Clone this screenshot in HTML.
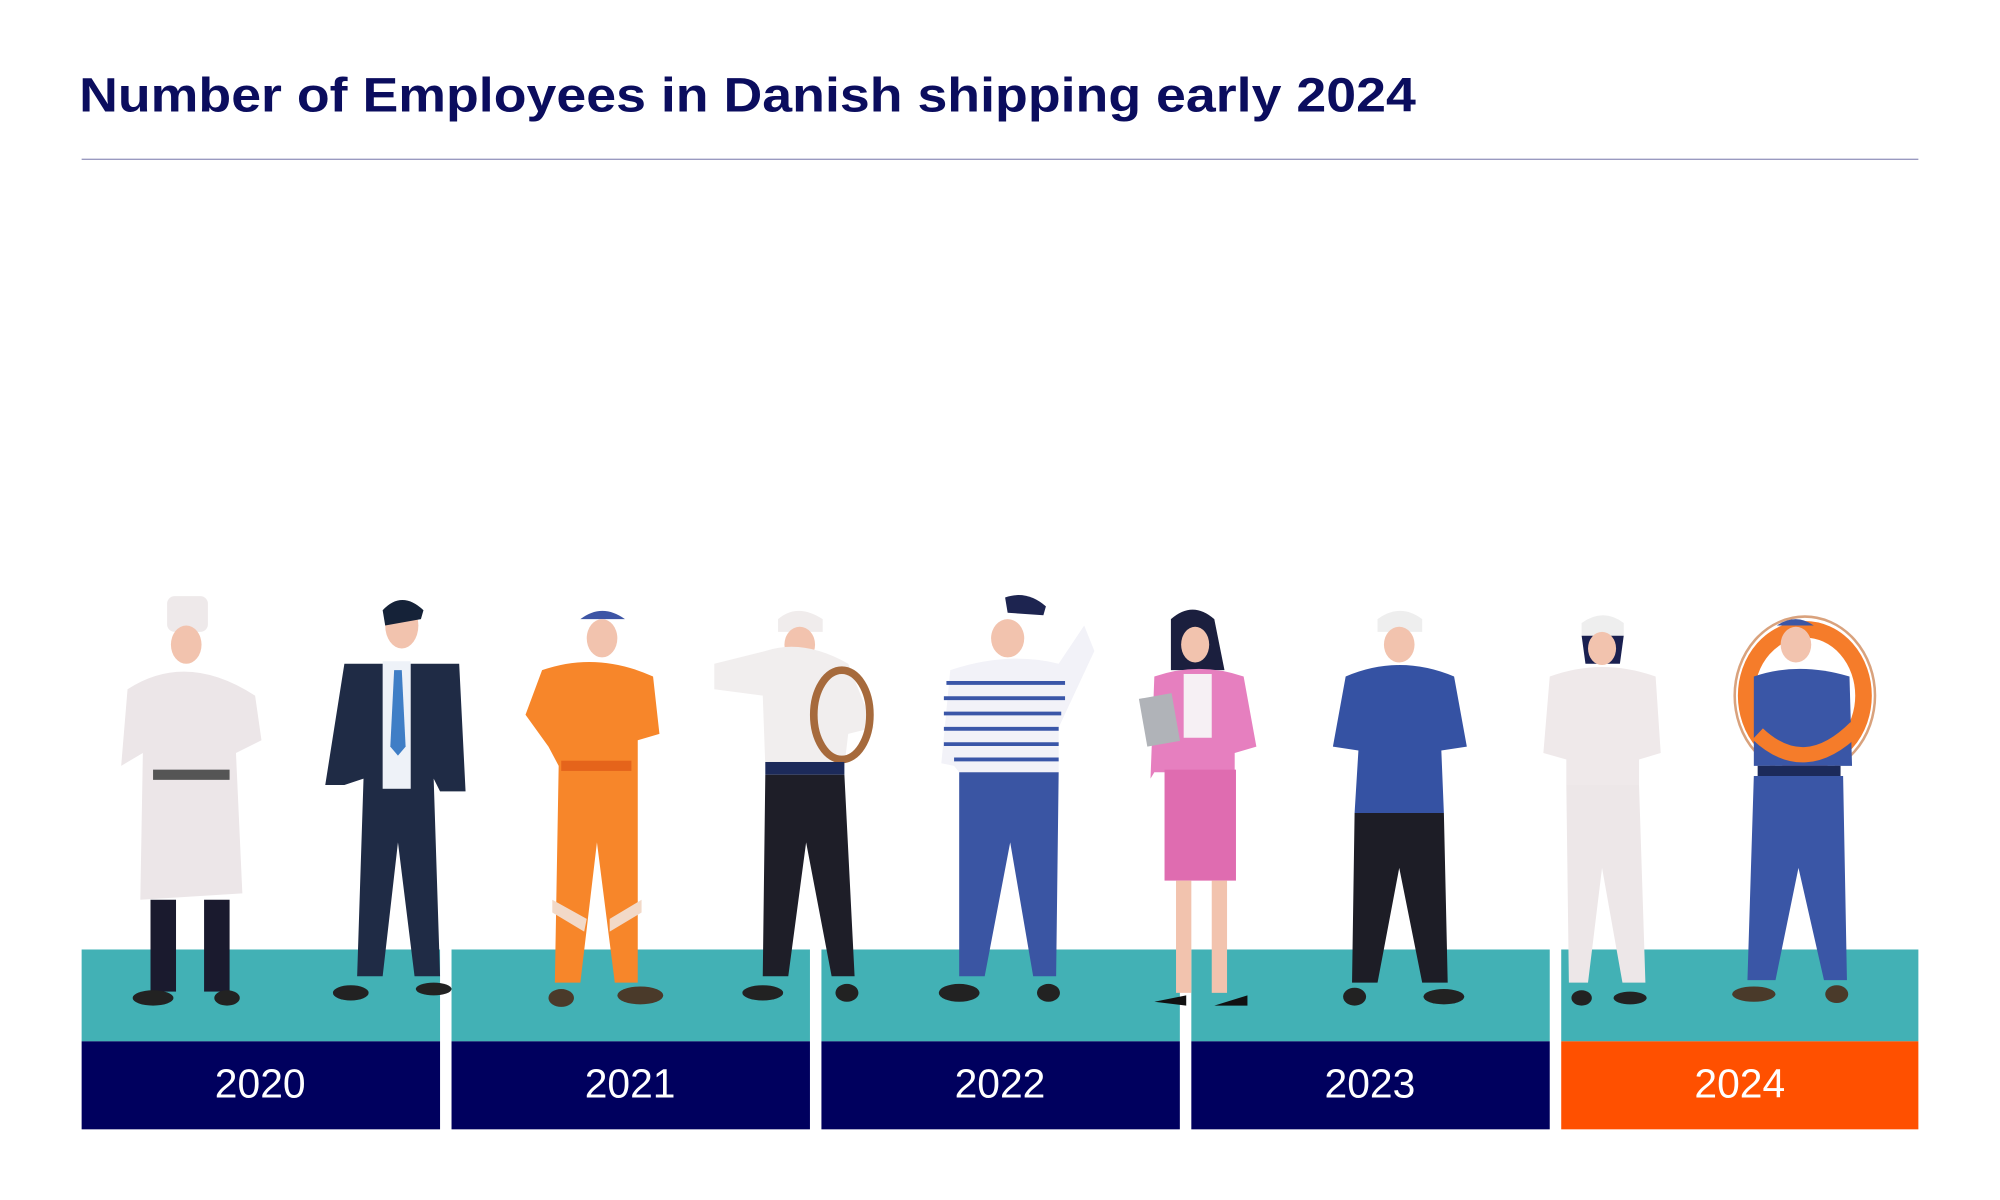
<!DOCTYPE html>
<html><head><meta charset="utf-8"><style>
html,body{margin:0;padding:0;background:#fff;width:2000px;height:1200px;overflow:hidden}
svg{display:block}
</style></head><body>
<svg width="2000" height="1200" viewBox="0 0 1568 940" xmlns="http://www.w3.org/2000/svg" font-family="Liberation Sans, sans-serif">
<rect width="1568" height="940" fill="#fff"/>
<text x="62" y="87" font-size="38" font-weight="bold" fill="#0b0d5e" textLength="1048" lengthAdjust="spacingAndGlyphs">Number of Employees in Danish shipping early 2024</text>
<line x1="64" y1="124.5" x2="1504" y2="124.5" stroke="#9a9ac0" stroke-width="1"/>
<g fill="#42b1b5">
<rect x="64" y="744" width="281" height="72"/><rect x="354" y="744" width="281" height="72"/><rect x="644" y="744" width="281" height="72"/><rect x="934" y="744" width="281" height="72"/><rect x="1224" y="744" width="280" height="72"/>
</g>
<g fill="#00005e">
<rect x="64" y="816" width="281" height="69"/><rect x="354" y="816" width="281" height="69"/><rect x="644" y="816" width="281" height="69"/><rect x="934" y="816" width="281" height="69"/>
</g>
<rect x="1224" y="816" width="280" height="69" fill="#ff5000"/>
<g fill="#fff" font-size="32" text-anchor="middle">
<text x="204" y="860">2020</text><text x="494" y="860">2021</text><text x="784" y="860">2022</text><text x="1074" y="860">2023</text><text x="1364" y="860">2024</text>
</g>
<g>
<!-- chef -->
<rect x="131" y="467" width="32" height="28" rx="6" fill="#eee9ea"/>
<ellipse cx="146" cy="505" rx="12" ry="15" fill="#f2c3ae"/>
<path d="M100 540 Q146 510 200 545 L205 580 L185 590 L190 700 L110 705 L112 590 L95 600 Z" fill="#ece6e8"/>
<rect x="120" y="603" width="60" height="8" fill="#555"/>
<rect x="118" y="705" width="20" height="72" fill="#1a1a2e"/><rect x="160" y="705" width="20" height="72" fill="#1a1a2e"/>
<ellipse cx="120" cy="782" rx="16" ry="6" fill="#222"/><ellipse cx="178" cy="782" rx="10" ry="6" fill="#222"/>
<!-- suit -->
<ellipse cx="315" cy="490" rx="13" ry="18" fill="#f2c3ae"/><path d="M300 478 Q315 462 332 478 L330 485 L302 490Z" fill="#152238"/>
<path d="M270 520 L360 520 L365 620 L345 620 L340 610 L345 765 L325 765 L312 660 L300 765 L280 765 L285 610 L270 615 L255 615 Z" fill="#1f2b45"/>
<rect x="300" y="518" width="22" height="100" fill="#eef2f8"/><path d="M309 525 L315 525 L318 585 L312 592 L306 585Z" fill="#3f7ec6"/>
<ellipse cx="275" cy="778" rx="14" ry="6" fill="#222"/><ellipse cx="340" cy="775" rx="14" ry="5" fill="#222"/>
<!-- orange -->
<path d="M455 485 Q472 472 490 485 Z" fill="#3d55a5"/><ellipse cx="472" cy="500" rx="12" ry="15" fill="#f2c3ae"/>
<path d="M425 525 Q468 510 512 530 L517 575 L500 580 L500 600 L500 770 L482 770 L468 660 L455 770 L435 770 L438 600 L430 585 L412 560 Z" fill="#f7862a"/>
<rect x="440" y="596" width="55" height="8" fill="#e5641b"/>
<path d="M433 705 L460 720 L458 730 L433 715Z M478 720 L503 705 L503 715 L478 730Z" fill="#f2d9c8"/>
<ellipse cx="440" cy="782" rx="10" ry="7" fill="#4a3a2a"/><ellipse cx="502" cy="780" rx="18" ry="7" fill="#4a3a2a"/>
<!-- sailor -->
<path d="M610 485 Q625 472 645 485 L645 495 L610 495Z" fill="#f0ecec"/><ellipse cx="627" cy="505" rx="12" ry="14" fill="#f2c3ae"/>
<path d="M560 520 L600 510 Q630 500 665 520 L685 570 L665 575 L662 600 L600 600 L598 545 L560 540 Z" fill="#f1eeee"/>
<ellipse cx="660" cy="560" rx="22" ry="35" fill="none" stroke="#a66a3c" stroke-width="6"/>
<rect x="600" y="597" width="62" height="10" fill="#1c2a5a"/>
<path d="M600 607 L662 607 L670 765 L652 765 L632 660 L618 765 L598 765 Z" fill="#1e1e28"/>
<ellipse cx="598" cy="778" rx="16" ry="6" fill="#222"/><ellipse cx="664" cy="778" rx="9" ry="7" fill="#222"/>
<!-- striped -->
<path d="M788 468 Q805 462 820 475 L818 482 L790 480Z" fill="#1d2450"/><ellipse cx="790" cy="500" rx="13" ry="15" fill="#f2c3ae"/>
<path d="M745 525 Q790 510 830 520 L850 490 L858 510 L830 570 L830 605 L752 605 L748 600 L738 598 Z" fill="#f2f2f8"/>
<g stroke="#3a56a8" stroke-width="3"><line x1="742" y1="535" x2="835" y2="535"/><line x1="740" y1="547" x2="835" y2="547"/><line x1="740" y1="559" x2="832" y2="559"/><line x1="740" y1="571" x2="830" y2="571"/><line x1="740" y1="583" x2="830" y2="583"/><line x1="748" y1="595" x2="830" y2="595"/></g>
<path d="M752 605 L830 605 L828 765 L810 765 L792 660 L772 765 L752 765 Z" fill="#3a55a3"/>
<ellipse cx="752" cy="778" rx="16" ry="7" fill="#222"/><ellipse cx="822" cy="778" rx="9" ry="7" fill="#222"/>
<!-- woman -->
<path d="M918 485 Q935 470 952 485 L960 525 L918 525Z" fill="#1b1f3e"/><ellipse cx="937" cy="505" rx="11" ry="14" fill="#f2c3ae"/>
<path d="M905 530 Q940 518 975 530 L985 585 L968 590 L968 605 L910 605 L905 605 L902 610 Z" fill="#e67fbf"/>
<rect x="928" y="528" width="22" height="50" fill="#f6f0f4"/>
<rect x="896" y="545" width="26" height="38" fill="#b0b3b8" transform="rotate(-10 909 564)"/>
<rect x="913" y="603" width="56" height="87" fill="#df6cb0"/>
<rect x="922" y="690" width="12" height="88" fill="#f2c3ae"/><rect x="950" y="690" width="12" height="88" fill="#f2c3ae"/>
<path d="M905 785 L930 780 L930 788Z M952 788 L978 780 L978 788Z" fill="#111"/>
<!-- blue coat -->
<path d="M1080 485 Q1098 472 1115 485 L1115 495 L1080 495Z" fill="#eee"/><ellipse cx="1097" cy="505" rx="12" ry="14" fill="#f2c3ae"/>
<path d="M1055 530 Q1097 512 1140 530 L1150 585 L1130 588 L1132 637 L1062 637 L1065 588 L1045 585 Z" fill="#3552a3"/>
<path d="M1062 637 L1132 637 L1135 770 L1115 770 L1097 680 L1080 770 L1060 770 Z" fill="#1d1d26"/>
<ellipse cx="1062" cy="781" rx="9" ry="7" fill="#222"/><ellipse cx="1132" cy="781" rx="16" ry="6" fill="#222"/>
<!-- white captain -->
<path d="M1240 488 Q1257 476 1273 488 L1273 498 L1240 498Z" fill="#eee"/><path d="M1240 498 L1273 498 L1270 520 L1243 520Z" fill="#1a2050"/><ellipse cx="1256" cy="508" rx="11" ry="13" fill="#f2c3ae"/>
<path d="M1215 530 Q1256 515 1298 530 L1302 590 L1285 595 L1285 615 L1228 615 L1228 595 L1210 590 Z" fill="#efe9ea"/>
<path d="M1228 615 L1285 615 L1290 770 L1272 770 L1256 680 L1245 770 L1230 770 Z" fill="#ede7e8"/>
<ellipse cx="1240" cy="782" rx="8" ry="6" fill="#222"/><ellipse cx="1278" cy="782" rx="13" ry="5" fill="#222"/>
<!-- lifebuoy -->
<ellipse cx="1415" cy="545" rx="55" ry="62" fill="none" stroke="#d9a27d" stroke-width="2"/>
<ellipse cx="1415" cy="545" rx="46" ry="52" fill="none" stroke="#f57c2a" stroke-width="13"/>
<path d="M1393 490 Q1408 480 1422 490 Z" fill="#3b56a5"/><ellipse cx="1408" cy="505" rx="12" ry="14" fill="#f2c3ae"/>
<path d="M1375 530 Q1410 518 1450 530 L1452 600 L1375 600 Z" fill="#3a56a6"/>
<path d="M1378 575 Q1415 610 1455 570" fill="none" stroke="#f57c2a" stroke-width="12"/>
<rect x="1378" y="600" width="65" height="8" fill="#1c2a5a"/>
<path d="M1375 608 L1445 608 L1448 768 L1430 768 L1410 680 L1392 768 L1370 768 Z" fill="#3a56a6"/>
<ellipse cx="1375" cy="779" rx="17" ry="6" fill="#4a3a2a"/><ellipse cx="1440" cy="779" rx="9" ry="7" fill="#4a3a2a"/>
</g>
</svg>
</body></html>
